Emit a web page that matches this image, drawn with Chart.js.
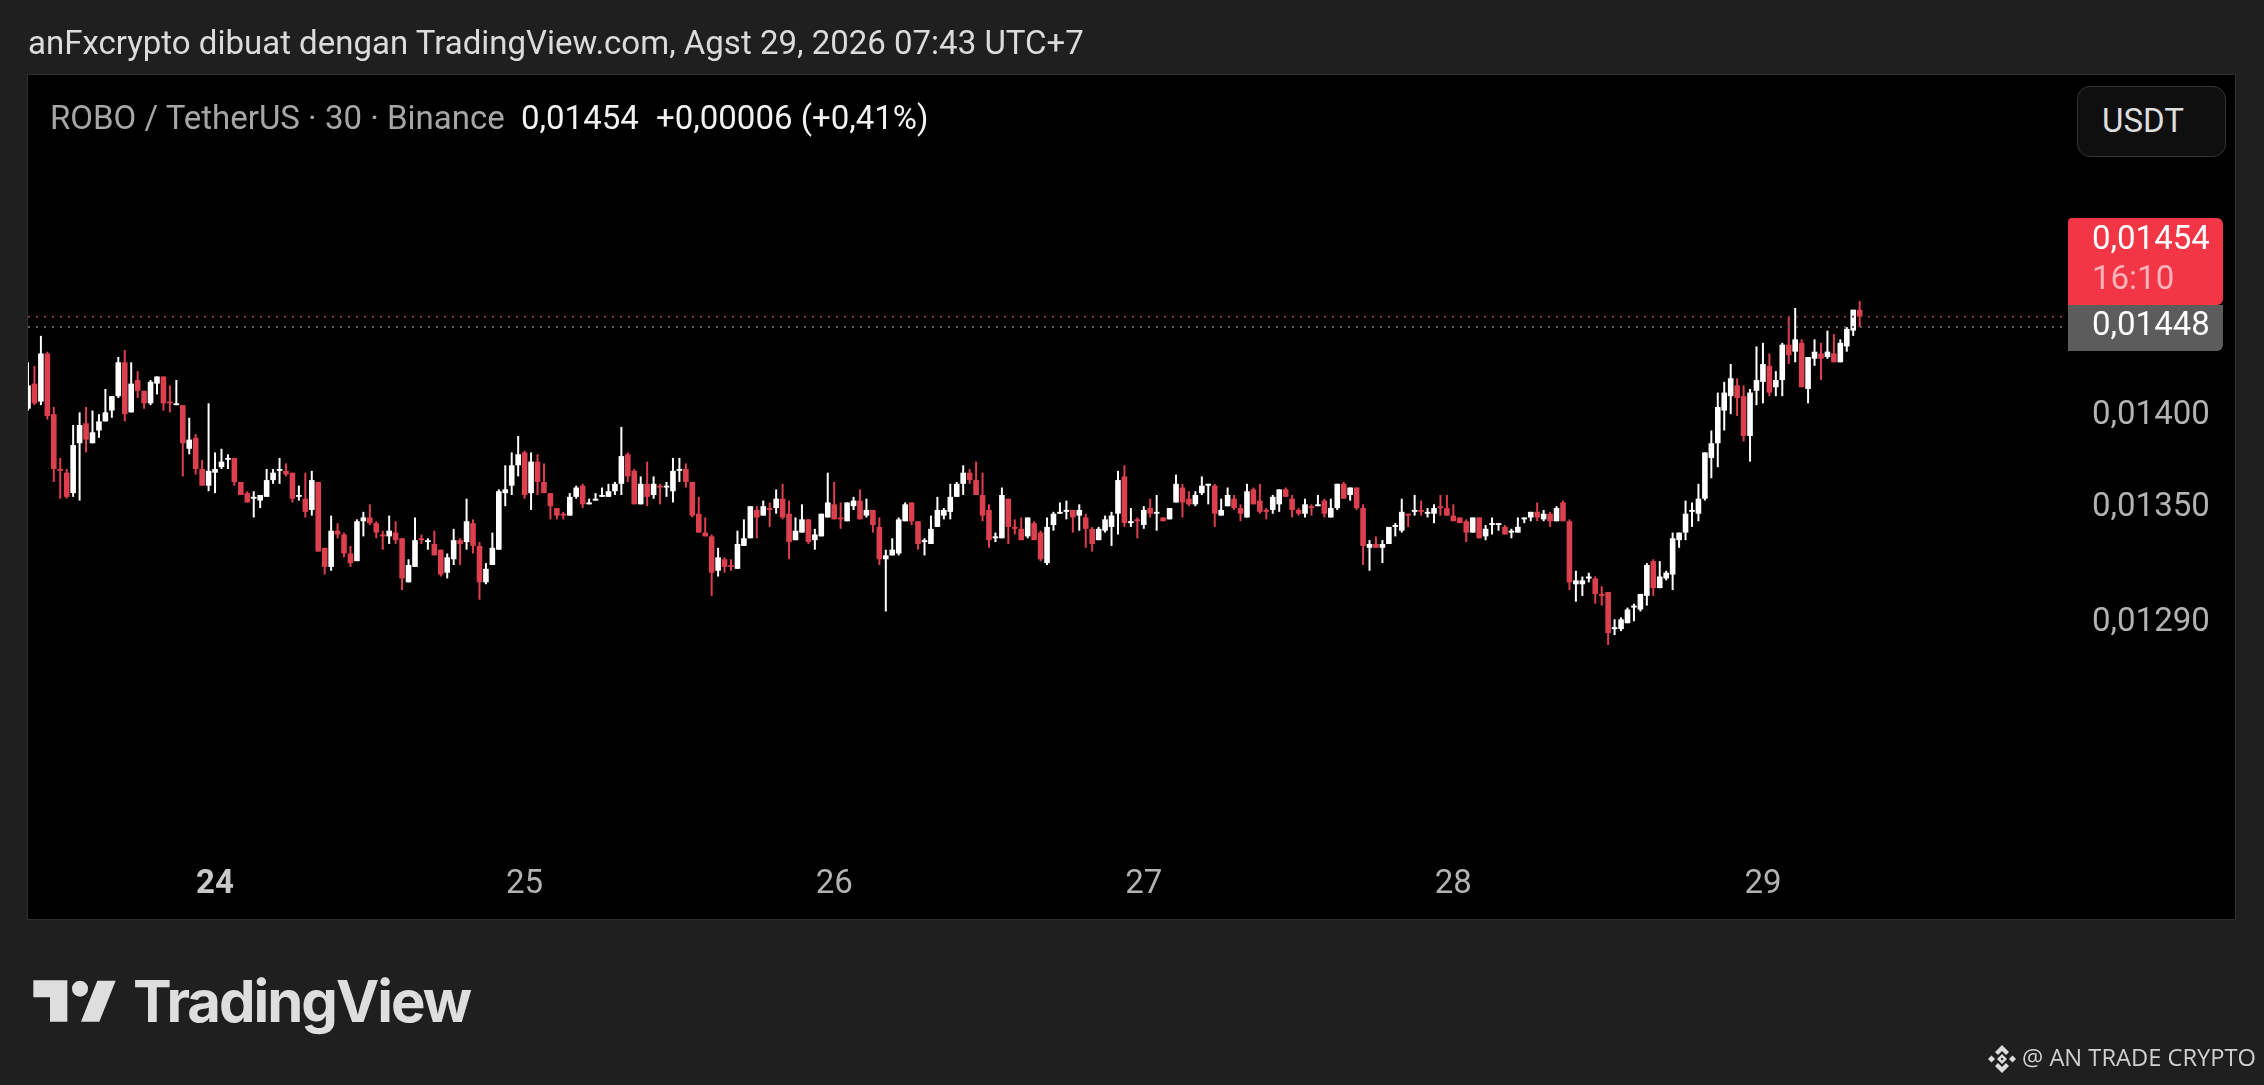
<!DOCTYPE html>
<html>
<head>
<meta charset="utf-8">
<title>ROBO / TetherUS</title>
<script src="https://cdn.jsdelivr.net/npm/chart.js@4"></script>
<style>
    html, body { margin: 0; padding: 0; width: 2264px; height: 1085px; overflow: hidden; background: #1f1f1f; }
    body { font-family: Roboto, sans-serif; position: relative; }
    .abs { position: absolute; white-space: nowrap; line-height: 1; }
    #panel { left: 27px; top: 74px; width: 2207px; height: 844px; background: #000; border: 1px solid #2e2e2e; }
    #priceChart { position: absolute; left: 0; top: 0; }
    #title { left: 28px; top: 26px; font-size: 33px; color: #dbdbdb; }
    #symbol { left: 50px; top: 101px; font-size: 33px; color: #a6a6a6; }
    #last { left: 521px; top: 101px; font-size: 33px; color: #f2f2f2; }
    #change { left: 656px; top: 101px; font-size: 33px; color: #f2f2f2; }
    #unit { left: 2077px; top: 86px; width: 147px; height: 69px; background: #0f0f0f; border: 1px solid #333; border-radius: 13px; }
    #unitText { left: 2102px; top: 104px; font-size: 33px; color: #dedede; }
    #logoText { left: 133px; top: 972px; font-family: Inter, sans-serif; font-weight: 700; font-size: 58px; letter-spacing: -2px; color: #dedede; }
    #credit { left: 2022px; top: 1046px; font-family: "Open Sans", sans-serif; font-size: 23.7px; color: #d0d0d0; }
</style>
</head>
<body>
<div id="panel" class="abs"></div>
<canvas id="priceChart" width="2264" height="1085"></canvas>

<div id="title" class="abs">anFxcrypto dibuat dengan TradingView.com, Agst 29, 2026 07:43 UTC+7</div>
<div id="symbol" class="abs">ROBO / TetherUS · 30 · Binance</div>
<div id="last" class="abs">0,01454</div>
<div id="change" class="abs">+0,00006 (+0,41%)</div>
<div id="unit" class="abs"></div>
<div id="unitText" class="abs">USDT</div>

<svg class="abs" style="left:0;top:940px" width="500" height="145" viewBox="0 0 1500 435">
    <path fill="#dedede" d="M100 121H202V245H150V172H100Z"/>
    <circle fill="#dedede" cx="240" cy="146" r="24"/>
    <path fill="#dedede" d="M292 122H347L298 245H243Z"/>
</svg>
<div id="logoText" class="abs">TradingView</div>

<svg class="abs" style="left:1988px;top:1045px" width="28" height="28" viewBox="0 0 28 28">
    <path fill="#dcdcdc" d="M14 0L21 7L18 10L14 6L10 10L7 7Z"/>
    <path fill="#dcdcdc" d="M14 28L21 21L18 18L14 22L10 18L7 21Z"/>
    <path fill="#dcdcdc" d="M0 14L3.500 10.500L7 14L3.500 17.500Z"/>
    <path fill="#dcdcdc" d="M28 14L24.500 10.500L21 14L24.500 17.500Z"/>
    <path fill="#dcdcdc" fill-rule="evenodd" d="M14 9L19 14L14 19L9 14ZM14 12.500L12.500 14L14 15.500L15.500 14Z"/>
</svg>
<div id="credit" class="abs">@ AN TRADE CRYPTO</div>

<script>
// ----------------- DATA (30 min candles, in units of 0,00001) -----------------
const opens = [
    1402,1416,1406,1433,1399,1369,1367,1356,1383,1394,
    1383,1390,1395,1401,1409,1428,1400,1418,1412,1405,
    1416,1420,1406,1404,1404,1380,1386,1369,1360,1367,
    1370,1374,1375,1362,1356,1353,1352,1354,1363,1368,
    1368,1367,1354,1353,1347,1362,1327,1317,1336,1334,
    1324,1320,1341,1343,1340,1334,1333,1335,1332,1309,
    1317,1332,1330,1329,1326,1314,1321,1331,1330,1340,
    1328,1309,1318,1326,1356,1360,1371,1378,1356,1373,
    1362,1356,1348,1345,1344,1354,1360,1350,1352,1354,
    1354,1357,1361,1377,1368,1350,1361,1355,1360,1359,
    1357,1368,1369,1362,1345,1335,1333,1315,1321,1318,
    1316,1328,1332,1347,1344,1348,1348,1353,1345,1331,
    1335,1342,1331,1333,1343,1350,1343,1341,1349,1352,
    1344,1347,1338,1321,1323,1324,1341,1351,1341,1330,
    1329,1338,1344,1346,1354,1361,1367,1363,1355,1347,
    1332,1332,1353,1338,1337,1333,1340,1335,1319,1339,
    1345,1346,1347,1344,1343,1337,1331,1336,1338,1345,
    1365,1340,1342,1339,1348,1345,1343,1342,1351,1359,
    1353,1350,1356,1360,1360,1344,1349,1353,1348,1343,
    1358,1352,1347,1347,1350,1358,1353,1347,1345,1349,
    1349,1352,1343,1348,1361,1355,1359,1348,1327,1329,
    1327,1329,1338,1336,1345,1346,1347,1345,1345,1349,
    1348,1344,1343,1341,1335,1343,1333,1339,1339,1338,
    1335,1335,1342,1343,1346,1342,1345,1341,1351,1341,
    1308,1308,1311,1311,1303,1304,1285,1285,1288,1296,
    1295,1302,1320,1306,1311,1313,1331,1335,1346,1345,
    1353,1375,1383,1401,1409,1415,1409,1387,1412,1417,
    1426,1414,1418,1438,1434,1439,1413,1430,1433,1431,
    1433,1428,1437,1446,1458
];
const highs = [
    1428,1426,1443,1434,1403,1375,1369,1393,1400,1403,
    1401,1399,1413,1409,1431,1435,1428,1423,1412,1418,
    1420,1420,1415,1418,1404,1397,1388,1374,1405,1378,
    1380,1377,1375,1362,1357,1357,1355,1369,1369,1375,
    1372,1367,1360,1367,1368,1362,1327,1344,1340,1335,
    1328,1342,1346,1350,1341,1336,1344,1341,1332,1321,
    1343,1334,1332,1336,1326,1324,1337,1332,1353,1342,
    1330,1319,1335,1358,1371,1378,1387,1379,1378,1377,
    1372,1356,1348,1346,1356,1360,1361,1353,1356,1359,
    1361,1362,1392,1378,1369,1365,1373,1365,1361,1362,
    1375,1375,1372,1362,1354,1343,1334,1327,1322,1321,
    1336,1342,1349,1349,1352,1351,1358,1361,1352,1343,
    1350,1342,1337,1345,1367,1362,1351,1351,1354,1358,
    1353,1347,1343,1326,1332,1343,1351,1351,1341,1332,
    1344,1354,1348,1361,1362,1371,1369,1373,1367,1350,
    1335,1359,1353,1342,1343,1343,1341,1336,1343,1346,
    1351,1352,1347,1350,1345,1338,1338,1344,1346,1368,
    1371,1348,1343,1349,1353,1355,1343,1348,1366,1361,
    1357,1357,1365,1361,1361,1353,1359,1355,1350,1361,
    1359,1361,1348,1355,1358,1359,1355,1348,1353,1350,
    1355,1353,1353,1361,1362,1359,1359,1350,1331,1333,
    1331,1338,1340,1353,1345,1355,1352,1348,1350,1355,
    1355,1350,1343,1342,1343,1343,1339,1343,1340,1339,
    1337,1343,1343,1346,1351,1347,1346,1349,1352,1342,
    1315,1312,1314,1312,1307,1304,1290,1291,1296,1298,
    1303,1319,1321,1320,1315,1335,1335,1352,1351,1361,
    1378,1390,1411,1417,1427,1419,1415,1413,1437,1439,
    1433,1423,1439,1454,1459,1441,1431,1441,1439,1446,
    1444,1441,1448,1458,1463
];
const lows = [
    1401,1404,1404,1396,1362,1353,1353,1354,1352,1378,
    1383,1386,1395,1397,1408,1395,1400,1408,1402,1404,
    1410,1401,1400,1404,1365,1377,1366,1360,1357,1356,
    1369,1369,1360,1355,1351,1343,1348,1354,1361,1361,
    1365,1351,1352,1343,1344,1325,1313,1315,1332,1322,
    1317,1320,1333,1339,1332,1326,1329,1329,1305,1309,
    1317,1329,1326,1323,1312,1311,1318,1318,1326,1324,
    1300,1308,1318,1326,1349,1355,1365,1353,1347,1355,
    1356,1342,1342,1342,1344,1353,1348,1350,1352,1354,
    1354,1355,1355,1362,1350,1350,1349,1353,1350,1354,
    1351,1362,1359,1343,1335,1333,1302,1312,1314,1315,
    1316,1328,1332,1332,1344,1338,1345,1342,1321,1331,
    1335,1329,1326,1333,1343,1342,1337,1341,1347,1342,
    1343,1335,1318,1294,1323,1323,1341,1339,1326,1323,
    1329,1338,1342,1342,1354,1355,1361,1355,1341,1327,
    1330,1332,1329,1334,1331,1332,1331,1320,1318,1336,
    1345,1342,1335,1336,1327,1325,1331,1335,1328,1334,
    1338,1338,1332,1337,1343,1336,1341,1342,1351,1343,
    1349,1349,1355,1350,1338,1344,1349,1347,1341,1343,
    1350,1345,1342,1345,1346,1354,1343,1344,1343,1344,
    1349,1343,1343,1347,1353,1352,1347,1318,1315,1327,
    1319,1329,1333,1335,1338,1344,1344,1343,1340,1344,
    1344,1341,1340,1330,1335,1332,1331,1334,1336,1334,
    1332,1335,1340,1341,1341,1341,1338,1341,1341,1305,
    1299,1302,1309,1298,1297,1277,1282,1284,1288,1289,
    1294,1297,1302,1306,1310,1305,1327,1331,1338,1341,
    1352,1364,1370,1390,1399,1398,1384,1373,1404,1405,
    1409,1409,1409,1427,1428,1414,1405,1426,1418,1430,
    1428,1428,1434,1443,1448
];
const closes = [
    1415,1405,1433,1398,1369,1368,1354,1382,1393,1385,
    1389,1395,1400,1409,1428,1399,1416,1412,1405,1417,
    1420,1405,1405,1405,1383,1385,1369,1360,1368,1369,
    1373,1375,1362,1355,1351,1354,1355,1363,1367,1369,
    1366,1353,1355,1346,1363,1325,1317,1336,1334,1324,
    1319,1341,1343,1340,1335,1333,1336,1331,1311,1318,
    1331,1331,1331,1323,1313,1322,1331,1329,1341,1328,
    1309,1316,1327,1357,1358,1371,1377,1355,1373,1362,
    1356,1349,1344,1344,1354,1359,1350,1351,1353,1355,
    1357,1361,1376,1365,1350,1361,1354,1361,1359,1360,
    1368,1369,1362,1344,1335,1333,1314,1322,1317,1317,
    1329,1332,1349,1343,1349,1347,1353,1343,1330,1336,
    1342,1330,1334,1345,1351,1342,1342,1351,1352,1342,
    1347,1339,1321,1323,1326,1342,1350,1341,1329,1331,
    1337,1347,1347,1354,1361,1367,1363,1355,1344,1331,
    1333,1355,1338,1337,1331,1343,1331,1321,1338,1345,
    1346,1347,1343,1347,1337,1329,1337,1342,1344,1363,
    1340,1341,1341,1347,1345,1346,1341,1348,1361,1351,
    1350,1355,1360,1361,1345,1347,1355,1348,1345,1357,
    1350,1346,1346,1354,1358,1354,1347,1345,1350,1348,
    1350,1345,1348,1361,1353,1359,1348,1328,1329,1327,
    1329,1338,1339,1346,1344,1347,1346,1346,1348,1348,
    1344,1341,1340,1335,1343,1332,1337,1340,1340,1334,
    1336,1338,1343,1346,1343,1345,1341,1348,1341,1309,
    1310,1310,1312,1303,1302,1283,1286,1290,1295,1297,
    1303,1318,1306,1312,1314,1332,1335,1345,1347,1353,
    1378,1383,1403,1411,1419,1408,1387,1411,1418,1427,
    1411,1418,1438,1432,1441,1414,1431,1434,1430,1434,
    1428,1439,1447,1458,1454
];

const priceUnit = 0.00001;
const lastPrice = 0.01454;
const prevClose = 0.01448;
const countdown = "16:10";
const priceTicks = [0.0129, 0.0135, 0.014];

// candle index of each midnight, and the day it starts
const dayIndexes = [29, 77, 125, 173, 221, 269];
const dayLabels = ["24", "25", "26", "27", "28", "29"];

const WHITE = "#ffffff";
const RED = "#dc3f4e";

// ----------------- HELPERS -----------------
function fmt(v) {
    return v.toFixed(5).replace(".", ",");
}

const candleColor = opens.map((o, i) => closes[i] >= o ? WHITE : RED);
const bodies = opens.map((o, i) => ({
    x: i,
    y: [Math.min(o, closes[i]) * priceUnit, Math.max(o, closes[i]) * priceUnit]
}));
const wicks = opens.map((o, i) => ({ x: i, y: [lows[i] * priceUnit, highs[i] * priceUnit] }));

const xMin = 0;
const xMax = 316.3;
const xLineEnd = 315.4;

// ----------------- PRICE TAGS -----------------
const priceTags = {
    id: "priceTags",
    afterDraw(chart) {
        const c = chart.ctx;
        const y = chart.scales.y;
        const left = chart.chartArea.right;
        const width = 155;
        const greyTop = y.getPixelForValue(prevClose) - 22;
        const greyH = 46;
        const redH = 87;

        c.save();
        c.fillStyle = "#5c5c5c";
        c.beginPath();
        c.roundRect(left, greyTop, width, greyH, [0, 0, 6, 0]);
        c.fill();
        c.fillStyle = "#f23645";
        c.beginPath();
        c.roundRect(left, greyTop - redH, width, redH, [4, 6, 6, 0]);
        c.fill();

        c.font = "33px Roboto";
        c.textAlign = "left";
        c.textBaseline = "middle";
        c.fillStyle = "#ffffff";
        c.fillText(fmt(lastPrice), left + 24, greyTop - redH + 23);
        c.fillStyle = "#ffb3ba";
        c.fillText(countdown, left + 24, greyTop - redH + 63);
        c.fillStyle = "#ffffff";
        c.fillText(fmt(prevClose), left + 24, greyTop + 22);
        c.restore();
    }
};

// ----------------- CHART SETUP -----------------
const ctx = document.getElementById("priceChart").getContext("2d");

const priceChart = new Chart(ctx, {
    type: "bar",
    data: {
        datasets: [
            {
                type: "line",
                data: [{ x: xMin, y: lastPrice }, { x: xLineEnd, y: lastPrice }],
                borderColor: "#8a3a43",
                borderWidth: 2,
                borderDash: [2, 6],
                pointRadius: 0,
                order: 0
            },
            {
                type: "line",
                data: [{ x: xMin, y: prevClose }, { x: xLineEnd, y: prevClose }],
                borderColor: "#5e5e5e",
                borderWidth: 2,
                borderDash: [2, 6],
                pointRadius: 0,
                order: 0
            },
            {
                data: bodies,
                backgroundColor: candleColor,
                borderWidth: 0,
                barThickness: 5.6,
                inflateAmount: 0,
                grouped: false,
                order: 1
            },
            {
                data: wicks,
                backgroundColor: candleColor,
                borderWidth: 0,
                barThickness: 2,
                inflateAmount: 0,
                grouped: false,
                order: 2
            }
        ]
    },
    options: {
        responsive: false,
        animation: false,
        devicePixelRatio: 1,
        layout: { padding: { left: 28, top: 75, right: 29, bottom: 167 } },
        plugins: { legend: { display: false }, tooltip: { enabled: false } },
        scales: {
            x: {
                type: "linear",
                min: xMin,
                max: xMax,
                offset: false,
                grid: { display: false },
                border: { display: false },
                afterFit: scale => { scale.height = 63; },
                afterBuildTicks: scale => { scale.ticks = dayIndexes.map(v => ({ value: v })); },
                ticks: {
                    autoSkip: false,
                    maxRotation: 0,
                    padding: 2,
                    color: c => c.tick && c.tick.value === dayIndexes[0] ? "#c8c8c8" : "#b2b2b2",
                    font: c => ({
                        family: "Roboto",
                        size: 33,
                        weight: c.tick && c.tick.value === dayIndexes[0] ? "bold" : "normal"
                    }),
                    callback: v => dayLabels[dayIndexes.indexOf(v)]
                }
            },
            y: {
                type: "logarithmic",
                position: "right",
                bounds: "data",
                min: 0.011752,
                max: 0.015998,
                grid: { display: false },
                border: { display: false },
                afterFit: scale => { scale.width = 167; },
                afterBuildTicks: scale => { scale.ticks = priceTicks.map(v => ({ value: v })); },
                ticks: {
                    autoSkip: false,
                    padding: 16,
                    labelOffset: 3,
                    crossAlign: "near",
                    color: "#b2b2b2",
                    font: { family: "Roboto", size: 33 },
                    callback: v => fmt(v)
                }
            }
        }
    },
    plugins: [priceTags]
});
</script>
</body>
</html>
